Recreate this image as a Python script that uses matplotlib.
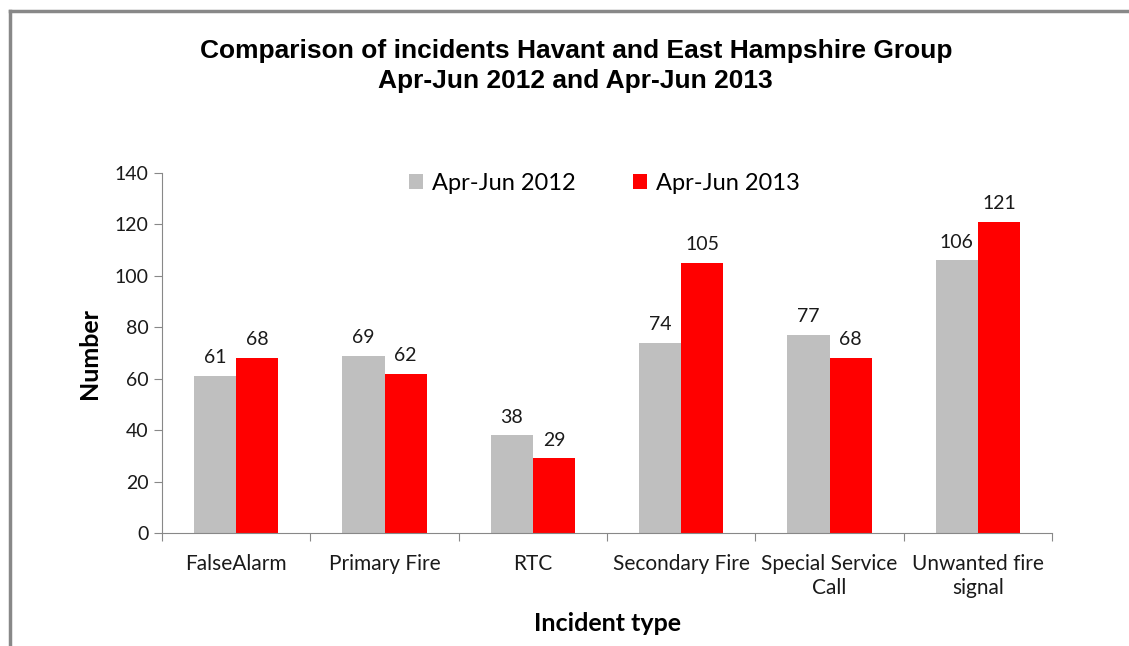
import numpy as np
import matplotlib.pyplot as plt
from matplotlib.lines import Line2D

# === Dados ===
categorias = ["FalseAlarm", "Primary Fire", "RTC", "Secondary Fire",
              "Special Service\nCall", "Unwanted fire\nsignal"]
valores_2012 = [61, 69, 38, 74, 77, 106]
valores_2013 = [68, 62, 29, 105, 68, 121]
rotulo_2012 = "Apr-Jun 2012"
rotulo_2013 = "Apr-Jun 2013"

cor_cinza = "#BFBFBF"
cor_vermelho = "#FF0000"
fonte = ["Lato", "DejaVu Sans"]

fig = plt.figure(figsize=(11.29, 6.46), dpi=100)
ax = fig.add_axes([0.1435, 0.1749, 0.7883, 0.5573])

x = np.arange(len(categorias))
w = 0.284
b1 = ax.bar(x - w / 2, valores_2012, width=w, color=cor_cinza, label=rotulo_2012)
b2 = ax.bar(x + w / 2, valores_2013, width=w, color=cor_vermelho, label=rotulo_2013)
ax.bar_label(b1, padding=7, fontsize=14, family=fonte, color="#1a1a1a")
ax.bar_label(b2, padding=7, fontsize=14, family=fonte, color="#1a1a1a")

ax.set_xlim(-0.5, len(categorias) - 0.5)
ax.set_ylim(0, 140)
ax.set_yticks(np.arange(0, 141, 20))
ax.set_xticks(np.arange(-0.5, len(categorias), 1.0))
ax.set_xticklabels([])
ax.set_xticks(x, minor=True)
ax.set_xticklabels(categorias, minor=True, fontsize=15, family=fonte, color="#1a1a1a",
                   linespacing=1.25)
ax.tick_params(axis="x", which="minor", length=0, pad=15)
ax.tick_params(axis="x", which="major", length=6, color="#888888")
ax.tick_params(axis="y", length=6, color="#888888", labelsize=14, labelcolor="#1a1a1a")
for lb in ax.get_yticklabels():
    lb.set_family(fonte)

for s in ["top", "right"]:
    ax.spines[s].set_visible(False)
for s in ["left", "bottom"]:
    ax.spines[s].set_color("#888888")

ax.set_ylabel("Number", fontsize=18, fontweight="bold", family=fonte, labelpad=10)
ax.set_xlabel("Incident type", fontsize=18, fontweight="bold", family=fonte, labelpad=10)

leg = ax.legend(loc="upper center", bbox_to_anchor=(0.497, 1.06), ncol=2, frameon=False,
                prop={"family": fonte, "size": 17}, handlelength=0.6, handleheight=0.6,
                columnspacing=2.4, handletextpad=0.4)

fig.text(0.51, 0.898, "Comparison of incidents Havant and East Hampshire Group\nApr-Jun 2012 and Apr-Jun 2013",
         ha="center", va="center", fontsize=19, fontweight="bold", family="Liberation Sans",
         linespacing=1.3)

# moldura
fig.add_artist(Line2D([10 / 1129, 10 / 1129], [0, 1 - 11 / 646], color="#888888", lw=2.5))
fig.add_artist(Line2D([10 / 1129, 1], [1 - 11 / 646, 1 - 11 / 646], color="#888888", lw=2.5))

fig.savefig("out.png", dpi=100)
